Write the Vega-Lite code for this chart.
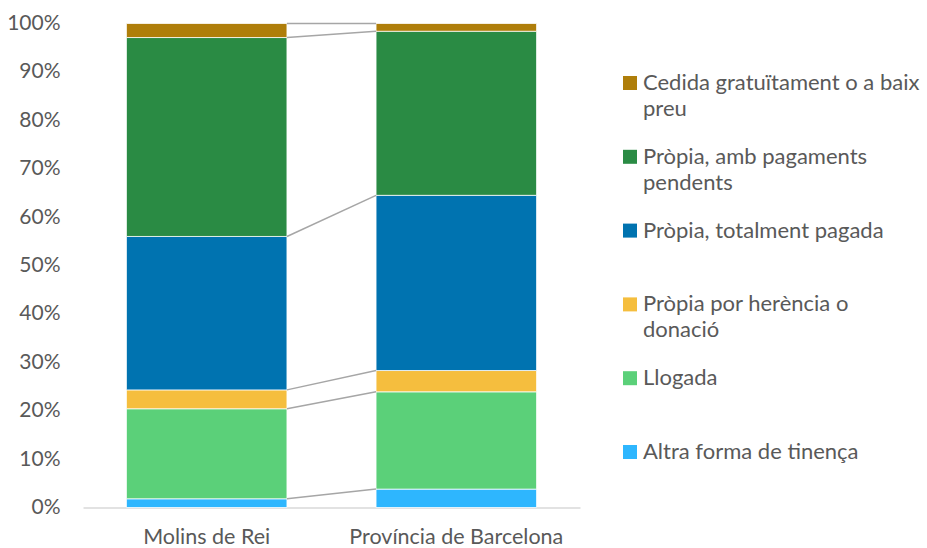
{
  "$schema": "https://vega.github.io/schema/vega-lite/v6.json",
  "autosize": {"type": "none"},
  "width": 497,
  "height": 484,
  "padding": {"left": 83, "top": 23.5, "right": 347, "bottom": 40.5},
  "background": "white",
  "config": {
    "view": {"stroke": null},
    "font": "Lato",
    "style": {"guide-label": {"lineHeight": 26}}
  },
  "data": {
    "values": [
      {"cat": "Molins de Rei", "series": "Altra forma de tinença", "order": 1, "pct": 1.8},
      {"cat": "Molins de Rei", "series": "Llogada", "order": 2, "pct": 18.6},
      {"cat": "Molins de Rei", "series": "Pròpia por herència o donació", "order": 3, "pct": 3.9},
      {"cat": "Molins de Rei", "series": "Pròpia, totalment pagada", "order": 4, "pct": 31.7},
      {"cat": "Molins de Rei", "series": "Pròpia, amb pagaments pendents", "order": 5, "pct": 41.1},
      {"cat": "Molins de Rei", "series": "Cedida gratuïtament o a baix preu", "order": 6, "pct": 2.9},
      {"cat": "Província de Barcelona", "series": "Altra forma de tinença", "order": 1, "pct": 3.8},
      {"cat": "Província de Barcelona", "series": "Llogada", "order": 2, "pct": 20.1},
      {"cat": "Província de Barcelona", "series": "Pròpia por herència o donació", "order": 3, "pct": 4.4},
      {"cat": "Província de Barcelona", "series": "Pròpia, totalment pagada", "order": 4, "pct": 36.2},
      {"cat": "Província de Barcelona", "series": "Pròpia, amb pagaments pendents", "order": 5, "pct": 33.9},
      {"cat": "Província de Barcelona", "series": "Cedida gratuïtament o a baix preu", "order": 6, "pct": 1.6}
    ]
  },
  "encoding": {
    "x": {
      "field": "cat", "type": "nominal", "sort": null, "title": null,
      "scale": {"paddingInner": 0.357, "paddingOuter": 0.174},
      "axis": {
        "labelAngle": 0, "ticks": false, "domainColor": "#D9D9D9", "domainWidth": 1.5,
        "labelColor": "#595959", "labelFont": "Lato", "labelFontSize": 21.5, "labelPadding": 19,
        "labelLimit": 400
      }
    }
  },
  "layer": [
    {
      "mark": {"type": "bar", "stroke": "white", "strokeWidth": 0.75},
      "encoding": {
        "y": {
          "field": "pct", "type": "quantitative", "stack": "zero", "title": null,
          "scale": {"domain": [0, 100], "nice": false},
          "axis": {
            "values": [0, 10, 20, 30, 40, 50, 60, 70, 80, 90, 100],
            "labelExpr": "datum.value + '%'",
            "grid": false, "ticks": false, "domain": false,
            "labelColor": "#595959", "labelFont": "Lato", "labelFontSize": 21, "labelPadding": 23
          }
        },
        "order": {"field": "order", "type": "quantitative", "sort": "ascending"},
        "color": {
          "field": "series", "type": "nominal", "title": null,
          "scale": {
            "domain": [
              "Cedida gratuïtament o a baix preu",
              "Pròpia, amb pagaments pendents",
              "Pròpia, totalment pagada",
              "Pròpia por herència o donació",
              "Llogada",
              "Altra forma de tinença"
            ],
            "range": ["#AF7E0A", "#2A8B44", "#0073B0", "#F5BE3E", "#5BD079", "#2EB6FE"]
          },
          "legend": {
            "orient": "none", "legendX": 536, "legendY": 48.5, "padding": 0,
            "symbolType": "square", "symbolSize": 196, "symbolStrokeWidth": 0,
            "labelOffset": 2, "labelFont": "Lato", "labelFontSize": 22, "labelColor": "#595959",
            "labelLimit": 400, "rowPadding": 25.8, "labelBaseline": "middle",
            "labelExpr": "datum.label == 'Cedida gratuïtament o a baix preu' ? ['Cedida gratuïtament o a baix', 'preu'] : datum.label == 'Pròpia, amb pagaments pendents' ? ['Pròpia, amb pagaments', 'pendents'] : datum.label == 'Pròpia por herència o donació' ? ['Pròpia por herència o', 'donació'] : [datum.label, '']"
          }
        }
      }
    },
    {
      "transform": [
        {"window": [{"op": "sum", "field": "pct", "as": "cum"}], "groupby": ["cat"], "sort": [{"field": "order"}], "frame": [null, 0]},
        {"pivot": "cat", "value": "cum", "groupby": ["series"]}
      ],
      "mark": {"type": "rule", "color": "#A6A6A6", "strokeWidth": 1.5},
      "encoding": {
        "x": {"datum": "Molins de Rei", "type": "nominal", "bandPosition": 1},
        "x2": {"datum": "Província de Barcelona", "bandPosition": 0},
        "y": {"field": "Molins de Rei", "type": "quantitative"},
        "y2": {"field": "Província de Barcelona"}
      }
    }
  ]
}
